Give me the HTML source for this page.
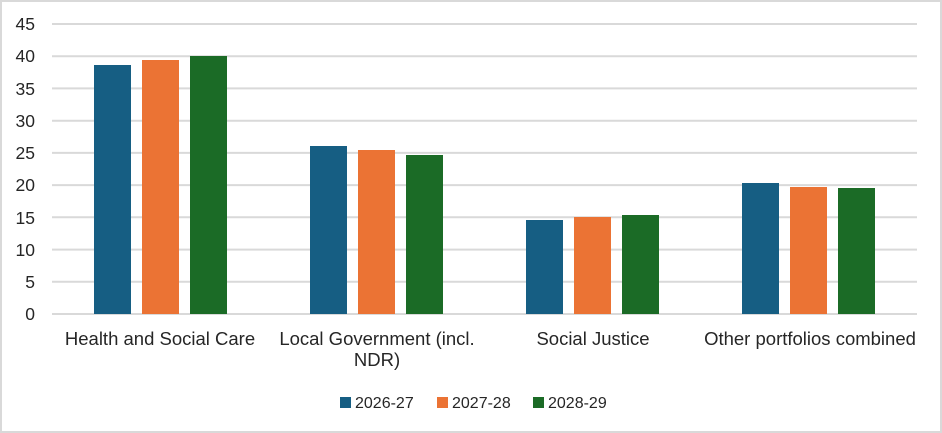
<!DOCTYPE html>
<html><head><style>
html,body{margin:0;padding:0;background:#fff;}
svg{display:block;font-family:"Liberation Sans",Arial,sans-serif;}
</style></head><body>
<svg width="942" height="433" viewBox="0 0 942 433" xmlns="http://www.w3.org/2000/svg">
<rect x="1" y="1" width="940" height="431" fill="#fff" stroke="#d9d9d9" stroke-width="2"/>
<g stroke="#d9d9d9" stroke-width="2">
<line x1="52" x2="917" y1="24" y2="24"/>
<line x1="52" x2="917" y1="56.2" y2="56.2"/>
<line x1="52" x2="917" y1="88.4" y2="88.4"/>
<line x1="52" x2="917" y1="120.7" y2="120.7"/>
<line x1="52" x2="917" y1="152.9" y2="152.9"/>
<line x1="52" x2="917" y1="185.1" y2="185.1"/>
<line x1="52" x2="917" y1="217.3" y2="217.3"/>
<line x1="52" x2="917" y1="249.6" y2="249.6"/>
<line x1="52" x2="917" y1="281.8" y2="281.8"/>
<line x1="52" x2="917" y1="314" y2="314"/>
</g>
<g font-size="17.5" fill="#262626" text-anchor="end">
<text x="35" y="30">45</text><text x="35" y="62">40</text><text x="35" y="95">35</text>
<text x="35" y="127">30</text><text x="35" y="159">25</text><text x="35" y="191">20</text>
<text x="35" y="224">15</text><text x="35" y="256">10</text><text x="35" y="288">5</text>
<text x="35" y="320">0</text>
</g>
<g>
<rect x="94" y="65" width="37" height="249" fill="#165e83"/>
<rect x="142" y="60" width="37" height="254" fill="#eb7334"/>
<rect x="190" y="56" width="37" height="258" fill="#1b6b26"/>
<rect x="310" y="146" width="37" height="168" fill="#165e83"/>
<rect x="358" y="150" width="37" height="164" fill="#eb7334"/>
<rect x="406" y="155" width="37" height="159" fill="#1b6b26"/>
<rect x="526" y="220" width="37" height="94" fill="#165e83"/>
<rect x="574" y="217" width="37" height="97" fill="#eb7334"/>
<rect x="622" y="215" width="37" height="99" fill="#1b6b26"/>
<rect x="742" y="183" width="37" height="131" fill="#165e83"/>
<rect x="790" y="187" width="37" height="127" fill="#eb7334"/>
<rect x="838" y="188" width="37" height="126" fill="#1b6b26"/>
</g>
<g font-size="18.5" fill="#262626" text-anchor="middle">
<text x="160" y="345">Health and Social Care</text>
<text x="377" y="345">Local Government (incl.</text>
<text x="377" y="366">NDR)</text>
<text x="593" y="345">Social Justice</text>
<text x="810" y="345">Other portfolios combined</text>
</g>
<g font-size="16" fill="#262626">
<rect x="340" y="397" width="11" height="11" fill="#165e83"/><text x="355" y="408">2026-27</text>
<rect x="437" y="397" width="11" height="11" fill="#eb7334"/><text x="452" y="408">2027-28</text>
<rect x="533" y="397" width="11" height="11" fill="#1b6b26"/><text x="548" y="408">2028-29</text>
</g>
</svg>
</body></html>
